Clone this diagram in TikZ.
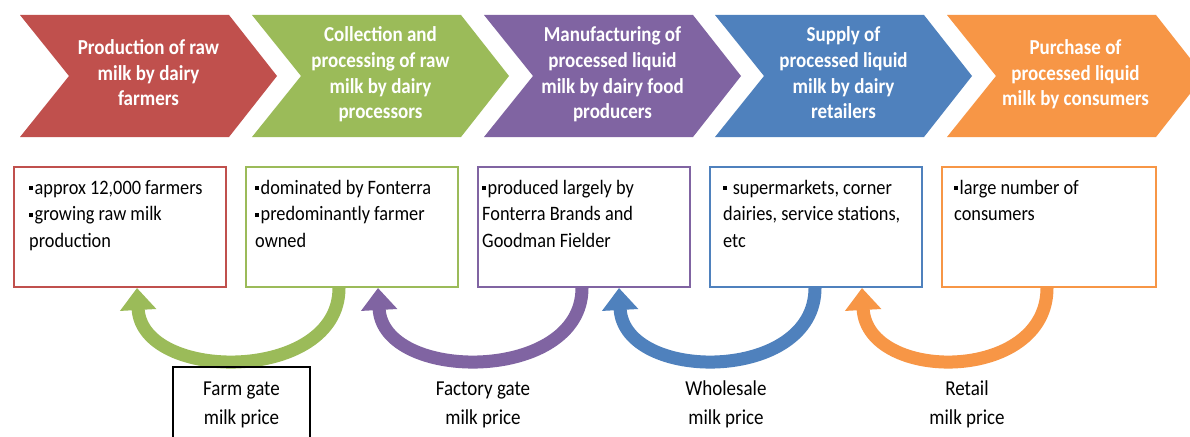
\documentclass[tikz,border=0pt]{standalone}
\usepackage{fontspec}
\usepackage{graphicx}
\setmainfont{Carlito}
\usetikzlibrary{arrows.meta,calc}
\definecolor{cred}{HTML}{C0504D}
\definecolor{cgreen}{HTML}{9BBB59}
\definecolor{cpurple}{HTML}{8064A2}
\definecolor{cblue}{HTML}{4F81BD}
\definecolor{corange}{HTML}{F79646}
\newcommand\chevshape[2]{\fill[#2] (#1,15) -- ++(209,0) -- ++(48,61) -- ++(-48,61) -- ++(-209,0) -- ++(49,-61) -- cycle;}
\newcommand\vstc[1]{\scalebox{1}[1.12]{\begin{tabular}{@{}c@{}}#1\end{tabular}}}
\newcommand\vstl[1]{\scalebox{1}[1.12]{\begin{tabular}{@{}l@{}}#1\end{tabular}}}
\newcommand\bul{\raisebox{0.2em}{\rule{0.2em}{0.2em}}\hspace{0.1em}}
\tikzset{
  chevtext/.style={text=white, font=\bfseries\fontsize{19}{23}\selectfont, align=center, inner sep=0pt},
  infobox/.style={draw=#1, line width=2pt, minimum width=212pt, minimum height=120pt, anchor=north west, inner sep=0pt},
  infotext/.style={anchor=north west, align=left, inner sep=0pt, font=\fontsize{18.3}{24}\selectfont},
  pricearrow/.style={draw=#1, line width=13pt, -{Triangle[length=22pt,width=35pt]}},
  pricetext/.style={align=center, inner sep=0pt, font=\fontsize{19}{26}\selectfont, minimum width=137pt, minimum height=74pt},
  pricebox/.style={pricetext, draw=black, line width=1.3pt}
}
\begin{document}
\begin{tikzpicture}[x=1pt,y=-1pt]
\path[use as bounding box] (0,0) rectangle (1190,436);
\clip (0,0) rectangle (1190,436);
\fill[white] (0,0) rectangle (1190,436);
% chevrons
\chevshape{20}{cred}
\chevshape{252}{cgreen}
\chevshape{484}{cpurple}
\chevshape{715}{cblue}
\chevshape{947}{corange}
\node[chevtext] (c1) at (148.5,75) {\vstc{Production of raw\\milk by dairy\\farmers}};
\node[chevtext] (c2) at (380.5,75) {\vstc{Collection and\\processing of raw\\milk by dairy\\processors}};
\node[chevtext] (c3) at (612.5,75) {\vstc{Manufacturing of\\processed liquid\\milk by dairy food\\producers}};
\node[chevtext] (c4) at (843.5,75) {\vstc{Supply of\\processed liquid\\milk by dairy\\retailers}};
\node[chevtext] (c5) at (1075.5,75) {\vstc{Purchase of\\processed liquid\\milk by consumers}};
% boxes
\node[infobox=cred] (b1) at (13,166) {};
\node[infobox=cgreen] (b2) at (245,166) {};
\node[infobox=cpurple] (b3) at (477,166) {};
\node[infobox=cblue] (b4) at (709,166) {};
\node[infobox=corange, minimum width=214pt] (b5) at (941,166) {};
\node[infotext] (t1) at ([shift={(16,9)}]b1.north west) {\vstl{\bul approx 12,000 farmers\\\bul growing raw milk\\production}};
\node[infotext] (t2) at ([shift={(10,9)}]b2.north west) {\vstl{\bul dominated by Fonterra\\\bul predominantly farmer\\owned}};
\node[infotext] (t3) at ([shift={(5,9)}]b3.north west) {\vstl{\bul produced largely by\\Fonterra Brands and\\Goodman Fielder}};
\node[infotext] (t4) at ([shift={(14,9)}]b4.north west) {\vstl{\bul\ supermarkets, corner\\dairies, service stations,\\etc}};
\node[infotext] (t5) at ([shift={(13,9)}]b5.north west) {\vstl{\bul large number of\\consumers}};
% price arrows
\draw[pricearrow=cgreen] ([xshift=-13pt]b2.south) .. controls +(0,95) and +(5,95) .. ([xshift=124pt]b1.south west);
\draw[pricearrow=cpurple] ([xshift=-2pt]b3.south) .. controls +(0,95) and +(5,95) .. ([xshift=133pt]b2.south west);
\draw[pricearrow=cblue] ([xshift=-1pt]b4.south) .. controls +(0,95) and +(5,95) .. ([xshift=142pt]b3.south west);
\draw[pricearrow=corange] ([xshift=-2pt]b5.south) .. controls +(0,95) and +(5,95) .. ([xshift=153pt]b4.south west);
% price labels
\node[pricebox] (p1) at (241.5,404) {\vstc{Farm gate\\milk price}};
\node[pricetext] (p2) at (483,404) {\vstc{Factory gate\\milk price}};
\node[pricetext] (p3) at (726,404) {\vstc{Wholesale\\milk price}};
\node[pricetext] (p4) at (967,404) {\vstc{Retail\\milk price}};
\end{tikzpicture}
\end{document}
